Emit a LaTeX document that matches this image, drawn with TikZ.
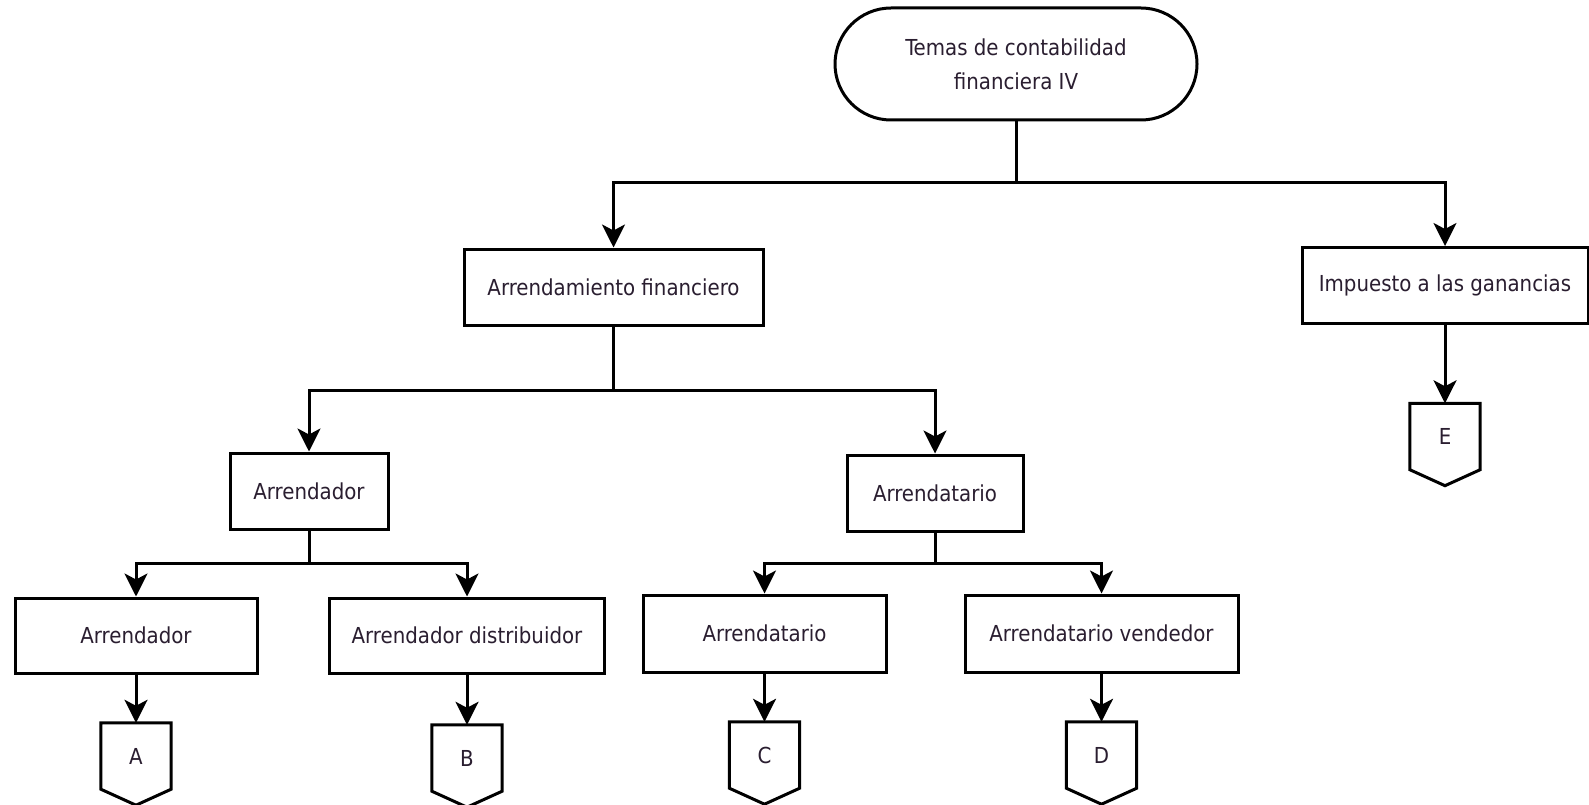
\documentclass[tikz,border=0pt]{standalone}
\usepackage{fontspec}
\setmainfont{DejaVu Sans Condensed}
\usetikzlibrary{arrows.meta}
\definecolor{txt}{RGB}{42,30,48}
\tikzset{
  line/.style={line width=3pt, draw=black},
  arr/.style={line, -{Stealth[length=23pt, width=23pt, inset=6pt]}},
  box/.style={line, rectangle, inner sep=0pt, text=txt,
              font=\fontsize{22}{34}\selectfont},
  topic/.style={box, rounded corners=56pt, align=center,
                minimum width=362pt, minimum height=112pt},
  offpage/.style={inner sep=0pt, minimum width=70pt, minimum height=66pt,
                  text=txt, font=\fontsize{22}{26}\selectfont}
}
\begin{document}
\begin{tikzpicture}[x=1pt, y=-1pt]
  \useasboundingbox[fill=white] (0,0) rectangle (1589,805);

  % root and first level
  \node[topic] (root) at (1016,64) {Temas de contabilidad\\financiera IV};
  \node[box, minimum width=299pt, minimum height=76pt] (af) at (613.5,287) {Arrendamiento financiero};
  \node[box, minimum width=286pt, minimum height=76pt] (ig) at (1445,285.5) {Impuesto a las ganancias};

  % second level
  \node[box, minimum width=158pt, minimum height=76pt] (dor) at (309,491) {Arrendador};
  \node[box, minimum width=176pt, minimum height=76pt] (tar) at (935,493) {Arrendatario};

  % third level
  \node[box, minimum width=242pt, minimum height=75pt] (dor1) at (136,635.5) {Arrendador};
  \node[box, minimum width=275pt, minimum height=75pt] (dor2) at (467,635.5) {Arrendador distribuidor};
  \node[box, minimum width=243pt, minimum height=77pt] (tar1) at (764.5,633.5) {Arrendatario};
  \node[box, minimum width=273pt, minimum height=77pt] (tar2) at (1101.5,633.5) {Arrendatario vendedor};

  % off-page connectors
  \node[offpage] (pa) at (136,756) {A};
  \node[offpage] (pb) at (467,758) {B};
  \node[offpage] (pc) at (764.5,755) {C};
  \node[offpage] (pd) at (1101.5,755) {D};
  \node[offpage] (pe) at (1445,436.5) {E};
  \foreach \n in {pa,pb,pc,pd,pe}
    \draw[line] (\n.north west) -- (\n.north east) -- (\n.south east)
      -- ([yshift=-16pt]\n.south) -- (\n.south west) -- cycle;

  % junction points of the buses
  \coordinate (j0) at (1016,183);
  \coordinate (j1) at (613.5,390);
  \coordinate (j2) at (309,563);
  \coordinate (j3) at (935,563);

  % connectors
  \draw[line] (root.south) -- (j0);
  \draw[arr] (j0) -| (af.north);
  \draw[arr] (j0) -| (ig.north);

  \draw[line] (af.south) -- (j1);
  \draw[arr] (j1) -| (dor.north);
  \draw[arr] (j1) -| (tar.north);

  \draw[line] (dor.south) -- (j2);
  \draw[arr] (j2) -| (dor1.north);
  \draw[arr] (j2) -| (dor2.north);

  \draw[line] (tar.south) -- (j3);
  \draw[arr] (j3) -| (tar1.north);
  \draw[arr] (j3) -| (tar2.north);

  \draw[arr] (dor1.south) -- (pa.north);
  \draw[arr] (dor2.south) -- (pb.north);
  \draw[arr] (tar1.south) -- (pc.north);
  \draw[arr] (tar2.south) -- (pd.north);
  \draw[arr] (ig.south) -- (pe.north);
\end{tikzpicture}
\end{document}
